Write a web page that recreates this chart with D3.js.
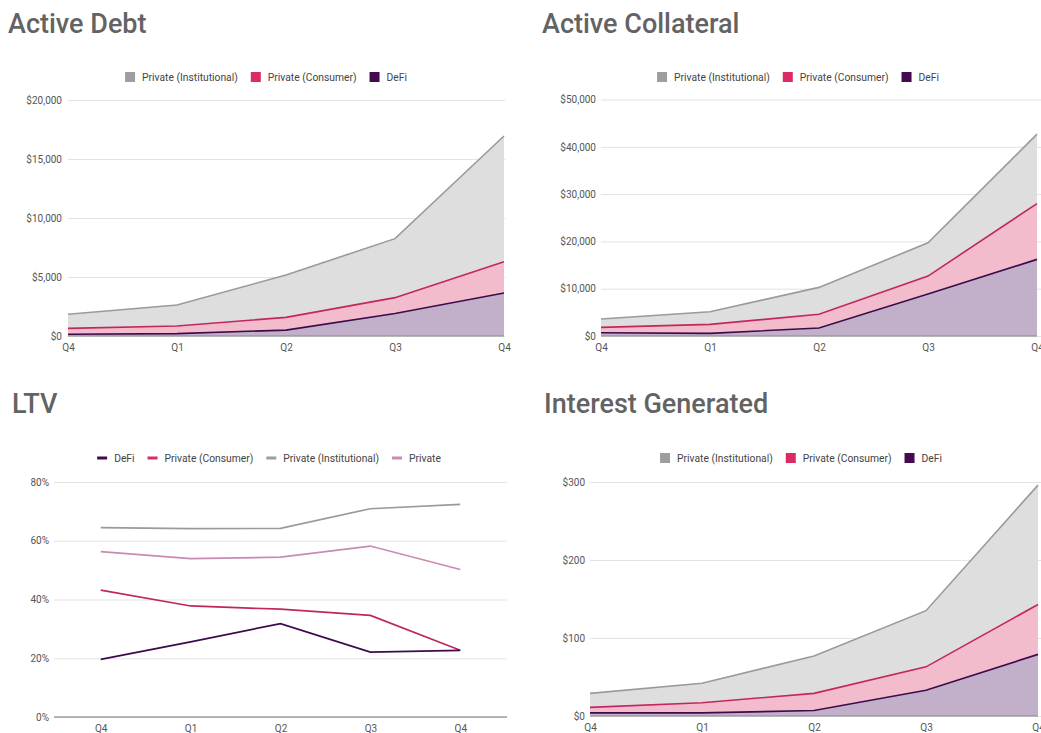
<!DOCTYPE html>
<html><head><meta charset="utf-8">
<script src="https://cdn.jsdelivr.net/npm/d3@7/dist/d3.min.js"></script>
<style>
body{margin:0;background:#fff;overflow:hidden}
svg{display:block;font-family:Roboto,"Noto Sans",sans-serif}
</style></head><body>
<svg id="c" width="1041" height="733"></svg>
<script>
const quarters = ["Q4","Q1","Q2","Q3","Q4 "];
const quarterLabels = ["Q4","Q1","Q2","Q3","Q4"];

// Active Debt ($)
const debtDeFi = [150, 200, 500, 1900, 3650];
const debtConsumer = [500, 650, 1080, 1350, 2650];
const debtInstitutional = [1190, 1780, 3590, 5000, 10650];
const debtTicks = [0, 5000, 10000, 15000, 20000];

// Active Collateral ($)
const collDeFi = [700, 560, 1690, 8870, 16200];
const collConsumer = [1130, 1900, 2890, 3800, 11800];
const collInstitutional = [1760, 2680, 5700, 7030, 14670];
const collTicks = [0, 10000, 20000, 30000, 40000, 50000];

// LTV (%)
const ltvDeFi = [19.6, 25.6, 31.8, 22.1, 22.7];
const ltvConsumer = [43.2, 37.8, 36.7, 34.6, 22.7];
const ltvInstitutional = [64.5, 64.1, 64.2, 70.9, 72.4];
const ltvPrivate = [56.3, 53.9, 54.4, 58.2, 50.2];
const ltvTicks = [0, 20, 40, 60, 80];

// Interest Generated ($)
const intDeFi = [4, 4, 7, 33, 79];
const intConsumer = [7, 13, 22, 30, 64];
const intInstitutional = [18, 25, 48, 72, 153];
const intTicks = [0, 100, 200, 300];

const seriesNames = ["DeFi", "Private (Consumer)", "Private (Institutional)", "Private"];

const COL = {
  "DeFi": {line:"#3c0b4a", fill:"#c2b0cb", key:"#44094f"},
  "Private (Consumer)": {line:"#c2275c", fill:"#f2bccc", key:"#dc2a62"},
  "Private (Institutional)": {line:"#9a9a9a", fill:"#dedede", key:"#9e9e9e"},
  "Private": {line:"#c98bb1", fill:"none", key:"#c98bb1"}
};

const svg = d3.select("#c");
const TITLE_COLOR = "#636363";
const TEXT_COLOR = "#555";

function title(x, y, t){
  svg.append("text").attr("x",x).attr("y",y).text(t)
    .attr("font-size",27).attr("font-weight",500).attr("fill",TITLE_COLOR);
}

function legend(cx, cy, names, kind){
  const g = svg.append("g");
  let x = 0;
  names.forEach(n => {
    const it = g.append("g").attr("transform",`translate(${x},0)`);
    if(kind === "square"){
      it.append("rect").attr("x",0).attr("y",cy-5).attr("width",10).attr("height",10).attr("fill",COL[n].key);
    } else {
      it.append("rect").attr("x",0).attr("y",cy-1.5).attr("width",10).attr("height",3).attr("fill",COL[n].key);
    }
    const t = it.append("text").attr("x",17).attr("y",cy).attr("dy","0.35em")
      .attr("font-size",10.3).attr("fill","#444").text(n);
    const w = 17 + t.node().getComputedTextLength();
    x += w + 13;
  });
  const total = x - 13;
  g.attr("transform",`translate(${cx - total/2},0)`);
}

function areaChart(cfg){
  const {x0,x1,gridX1,yTop,yBot,labelRight,ticks,fmt,data} = cfg;
  const x = d3.scalePoint().domain(quarters).range([x0,x1]);
  const y = d3.scaleLinear().domain([0, d3.max(ticks)]).range([yBot,yTop]);
  const rows = quarters.map((q,i)=>({q, "DeFi":data[0][i], "Private (Consumer)":data[1][i], "Private (Institutional)":data[2][i]}));
  const keys = ["DeFi","Private (Consumer)","Private (Institutional)"];
  const stack = d3.stack().keys(keys)(rows);
  const ga = svg.append("g").attr("transform",`translate(${x0},0)`)
    .call(d3.axisLeft(y).tickValues(ticks).tickFormat(fmt).tickSize(-(gridX1-x0)).tickPadding(x0-labelRight));
  ga.select(".domain").remove();
  ga.selectAll(".tick line").attr("stroke","#e3e3e3").attr("stroke-width",1);
  ga.selectAll(".tick text").attr("font-size",10).attr("fill",TEXT_COLOR).attr("font-family","Roboto,sans-serif");
  const area = d3.area().x(d=>x(d.data.q)).y0(d=>y(d[0])).y1(d=>y(d[1]));
  const line = d3.line().x(d=>x(d.data.q)).y(d=>y(d[1]));
  stack.forEach(s=>{
    svg.append("path").attr("d",area(s)).attr("fill",COL[s.key].fill);
  });
  stack.forEach(s=>{
    svg.append("path").attr("d",line(s)).attr("fill","none").attr("stroke",COL[s.key].line).attr("stroke-width",1.6);
  });
  svg.append("line").attr("x1",x0).attr("x2",x1).attr("y1",yBot).attr("y2",yBot).attr("stroke","#8a8a8a").attr("stroke-width",1.2);
  const gx = svg.append("g").attr("transform",`translate(0,${yBot})`)
    .call(d3.axisBottom(x).tickSize(0).tickPadding(8).tickFormat((d,i)=>quarterLabels[i]));
  gx.select(".domain").remove();
  gx.selectAll(".tick text").attr("font-size",10).attr("fill",TEXT_COLOR).attr("font-family","Roboto,sans-serif");
}

const dollar = d3.format("$,");

// Chart 1: Active Debt
title(8, 33, "Active Debt");
legend(266, 77, ["Private (Institutional)","Private (Consumer)","DeFi"], "square");
areaChart({x0:68,x1:504,gridX1:505,yTop:100,yBot:336,labelRight:62,ticks:debtTicks,fmt:dollar,
  data:[debtDeFi,debtConsumer,debtInstitutional]});

// Chart 2: Active Collateral
title(542, 33, "Active Collateral");
legend(798, 77, ["Private (Institutional)","Private (Consumer)","DeFi"], "square");
areaChart({x0:601,x1:1037,gridX1:1045,yTop:99.5,yBot:336,labelRight:596,ticks:collTicks,fmt:dollar,
  data:[collDeFi,collConsumer,collInstitutional]});

// Chart 3: LTV
title(12, 413, "LTV");
legend(269, 458, ["DeFi","Private (Consumer)","Private (Institutional)","Private"], "line");
(function(){
  const gx0 = 54, gx1 = 507, yTop = 482, yBot = 717;
  const x = d3.scalePoint().domain(quarters).range([gx0,gx1]).padding(0.52);
  const y = d3.scaleLinear().domain([0,80]).range([yBot,yTop]);
  const ga = svg.append("g").attr("transform",`translate(${gx0},0)`)
    .call(d3.axisLeft(y).tickValues(ltvTicks).tickFormat(d=>d+"%").tickSize(-(gx1-gx0)).tickPadding(5));
  ga.select(".domain").remove();
  ga.selectAll(".tick line").attr("stroke","#e3e3e3");
  ga.selectAll(".tick text").attr("font-size",10).attr("fill",TEXT_COLOR).attr("font-family","Roboto,sans-serif");
  svg.append("line").attr("x1",gx0).attr("x2",gx1).attr("y1",yBot).attr("y2",yBot).attr("stroke","#777").attr("stroke-width",1.2);
  const series = [["Private (Institutional)",ltvInstitutional],["Private",ltvPrivate],["Private (Consumer)",ltvConsumer],["DeFi",ltvDeFi]];
  const line = d3.line().x((d,i)=>x(quarters[i])).y(d=>y(d));
  series.forEach(([n,v])=>{
    svg.append("path").attr("d",line(v)).attr("fill","none").attr("stroke",COL[n].line).attr("stroke-width",1.7);
  });
  const gx = svg.append("g").attr("transform",`translate(0,${yBot})`)
    .call(d3.axisBottom(x).tickSize(0).tickPadding(8).tickFormat((d,i)=>quarterLabels[i]));
  gx.select(".domain").remove();
  gx.selectAll(".tick text").attr("font-size",10).attr("fill",TEXT_COLOR).attr("font-family","Roboto,sans-serif");
})();

// Chart 4: Interest Generated
title(544, 413, "Interest Generated");
legend(801, 458, ["Private (Institutional)","Private (Consumer)","DeFi"], "square");
areaChart({x0:590,x1:1038,gridX1:1045,yTop:482,yBot:716,labelRight:585,ticks:intTicks,fmt:dollar,
  data:[intDeFi,intConsumer,intInstitutional]});
</script>
</body></html>
